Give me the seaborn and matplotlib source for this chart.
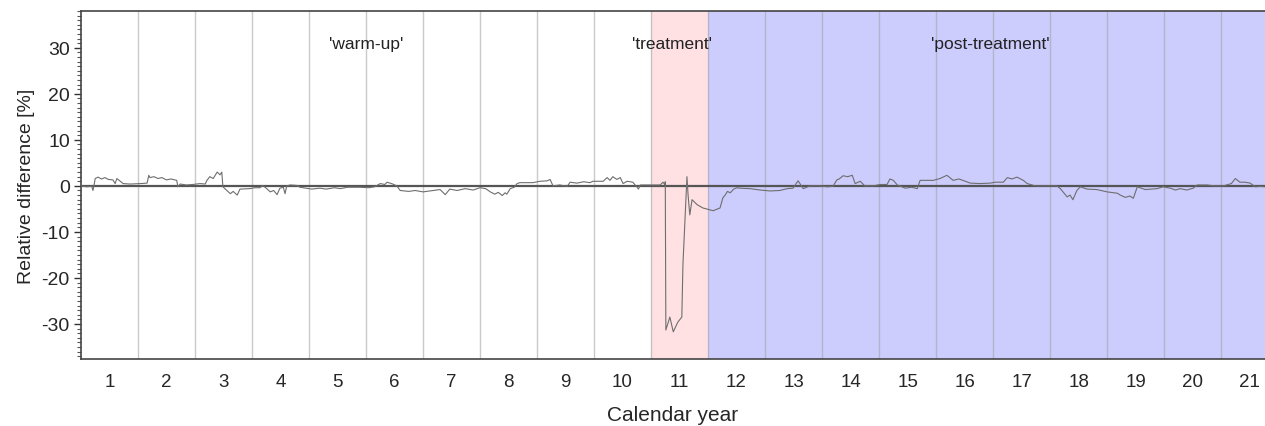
import numpy as np
import pandas as pd
import matplotlib
matplotlib.use("Agg")
import matplotlib.pyplot as plt
import seaborn as sns
from matplotlib.ticker import MultipleLocator, FixedLocator

# time in years since start, relative difference in %
years = [0.00, 0.10, 0.19, 0.21, 0.23, 0.25, 0.30, 0.36, 0.42, 0.48, 0.56, 0.60, 0.63, 0.68, 0.74, 0.86,
         1.04, 1.16, 1.19, 1.21, 1.28, 1.35, 1.42, 1.50, 1.58, 1.68, 1.70, 1.74, 1.85, 1.96,
         2.09, 2.18, 2.21, 2.26, 2.32, 2.39, 2.44, 2.47, 2.49, 2.56, 2.62, 2.67, 2.74, 2.79, 2.96,
         3.05, 3.14, 3.19, 3.25, 3.32, 3.38, 3.44, 3.49, 3.55, 3.58, 3.61, 3.67, 3.79, 3.84, 3.95,
         4.05, 4.19, 4.30, 4.45, 4.55, 4.67, 4.89,
         5.05, 5.15, 5.25, 5.33, 5.37, 5.47, 5.54, 5.60, 5.75, 5.86,
         6.00, 6.18, 6.30, 6.39, 6.47, 6.60, 6.74, 6.88,
         7.00, 7.10, 7.18, 7.26, 7.32, 7.39, 7.44, 7.47, 7.53, 7.60, 7.65, 7.70, 7.93,
         8.05, 8.18, 8.23, 8.28, 8.40, 8.53, 8.58, 8.70, 8.82, 8.93, 8.98,
         9.16, 9.23, 9.28, 9.33, 9.40, 9.46, 9.51, 9.58, 9.68, 9.75, 9.78, 9.81, 9.98,
         10.16, 10.21, 10.24, 10.25, 10.26, 10.33, 10.39, 10.47, 10.54, 10.56, 10.60, 10.63, 10.65,
         10.68, 10.72, 10.81, 10.91,
         11.09, 11.21, 11.26, 11.30, 11.34, 11.39, 11.45, 11.51, 11.56, 11.74, 11.91,
         12.09, 12.26, 12.39, 12.49, 12.58, 12.67, 12.79, 12.96,
         13.09, 13.19, 13.26, 13.30, 13.37, 13.45, 13.53, 13.58, 13.67, 13.75, 13.89,
         14.02, 14.14, 14.19, 14.25, 14.32, 14.46, 14.57, 14.67, 14.72, 14.95,
         15.07, 15.19, 15.30, 15.40, 15.47, 15.60, 15.77, 15.95,
         16.04, 16.18, 16.25, 16.33, 16.42, 16.53, 16.60, 16.74, 16.91,
         17.12, 17.18, 17.30, 17.35, 17.40, 17.47, 17.53, 17.65, 17.82,
         18.00, 18.18, 18.23, 18.32, 18.40, 18.46, 18.53, 18.67, 18.88, 18.98,
         19.11, 19.20, 19.28, 19.40, 19.51, 19.58, 19.75, 19.89,
         20.04, 20.18, 20.25, 20.33, 20.42, 20.51, 20.60, 20.70, 20.77]
rel_diff = [0.0, -0.2, -0.1, -1.0, 0.2, 1.6, 1.9, 1.5, 1.8, 1.4, 1.3, 0.5, 1.6, 1.1, 0.5, 0.4,
            0.5, 0.6, 2.3, 1.8, 2.0, 1.6, 1.8, 1.3, 1.5, 1.2, -0.2, 0.4, 0.2, 0.3,
            0.5, 0.4, 1.2, 2.0, 1.6, 3.0, 2.4, 3.0, -0.2, -1.0, -1.7, -1.2, -2.0, -0.7, -0.6,
            -0.4, -0.4, 0.1, -0.5, -1.3, -1.0, -1.9, -0.5, -0.3, -1.7, 0.0, 0.2, 0.1, -0.3, -0.5,
            -0.7, -0.5, -0.7, -0.4, -0.6, -0.3, -0.3,
            -0.4, -0.2, 0.5, 0.3, 0.8, 0.4, 0.0, -1.0, -1.2, -1.0,
            -1.3, -1.0, -0.8, -1.9, -0.7, -1.0, -0.6, -0.9,
            -0.4, -0.6, -1.3, -1.8, -1.4, -2.1, -1.5, -1.8, -0.6, -0.3, 0.5, 0.7, 0.7,
            1.0, 1.1, 1.4, 0.0, 0.2, -0.1, 0.8, 0.6, 0.9, 0.7, 1.0,
            1.0, 1.8, 1.2, 2.0, 1.4, 1.8, 0.5, 1.0, 0.8, -0.2, -0.7, 0.2, 0.2,
            0.2, 0.8, 0.3, 0.9, -31.3, -28.5, -31.7, -29.6, -28.5, -17.0, -6.3, 2.0, -2.0,
            -6.3, -3.0, -4.1, -4.8,
            -5.4, -4.8, -2.6, -2.0, -1.2, -1.5, -0.7, -0.4, -0.5, -0.6, -0.9,
            -1.1, -1.0, -0.6, -0.5, 1.1, -0.6, 0.0, 0.0,
            -0.2, -0.1, 1.3, 1.5, 2.2, 2.0, 2.3, 0.5, 1.0, 0.0, 0.0,
            0.3, 0.3, 1.5, 1.2, 0.2, -0.5, -0.3, -0.6, 1.2, 1.2,
            1.6, 2.3, 1.2, 1.5, 1.2, 0.6, 0.5, 0.6,
            0.8, 0.8, 1.8, 1.5, 1.9, 1.2, 0.5, 0.0, 0.0,
            0.0, -0.6, -2.4, -2.0, -3.0, -1.0, -0.2, -0.7, -0.8,
            -1.3, -1.6, -2.0, -2.5, -2.2, -2.7, -0.2, -0.8, -0.6, -0.2,
            -0.5, -0.9, -0.6, -0.9, -0.5, 0.2, 0.2, 0.0,
            0.0, 0.5, 1.6, 0.8, 0.8, 0.6, -0.2, -0.1, -0.2]

year_labels = [str(i) for i in range(1, 22)]
phase_names = ["'warm-up'", "'treatment'", "'post-treatment'"]
phase_label_x = [5.0, 10.37, 15.96]
treatment_span = (10, 11)
post_span = (11, 21)

df = pd.DataFrame({"year": years, "diff": rel_diff})

sns.set_style("white")
plt.rcParams['font.family'] = ['Liberation Sans', 'DejaVu Sans']
plt.rcParams['axes.unicode_minus'] = False

fig = plt.figure(figsize=(12.65, 4.27), dpi=100)
ax = fig.add_axes([0.064, 0.157, 0.936, 0.815])

# shaded phases
ax.axvspan(*treatment_span, color='#ffe1e4', lw=0, zorder=0)
ax.axvspan(*post_span, color='#ccccfd', lw=0, zorder=0)

# year boundaries
for b in range(1, 21):
    ax.axvline(b, color='#a0a0a0', lw=1, alpha=0.55, zorder=1)

ax.axhline(0, color='#555555', lw=1.6, zorder=2)

sns.lineplot(data=df, x='year', y='diff', ax=ax, color='#6e6e6e', lw=0.8, zorder=3)

for name, xpos in zip(phase_names, phase_label_x):
    ax.text(xpos, 31, name, ha='center', va='center', fontsize=12.5, color='#222222')

ax.set_xlim(0, 20.77)
ax.set_ylim(-37.6, 38)

ax.xaxis.set_major_locator(FixedLocator(range(1, 21)))
ax.xaxis.set_major_formatter(plt.NullFormatter())
ax.xaxis.set_minor_locator(FixedLocator([i + 0.5 for i in range(21)]))
ax.set_xticklabels(year_labels, minor=True)
ax.tick_params(axis='x', which='major', length=8, width=1, color='#333333', direction='out')
ax.tick_params(axis='x', which='minor', length=0, labelsize=13.5, pad=10)

ax.yaxis.set_major_locator(MultipleLocator(10))
ax.yaxis.set_minor_locator(MultipleLocator(1))
ax.tick_params(axis='y', which='major', length=5, width=1, labelsize=14, color='#333333', left=True, pad=3)
ax.tick_params(axis='y', which='minor', length=3, width=0.8, color='#555555', left=True)

for s in ['left', 'bottom', 'top']:
    ax.spines[s].set_color('#444444')
    ax.spines[s].set_linewidth(1.2)
ax.spines['right'].set_visible(False)

ax.set_xlabel('Calendar year', fontsize=15, labelpad=11)
ax.set_ylabel('Relative difference [%]', fontsize=14, labelpad=5)

fig.savefig('out.png', dpi=100)
